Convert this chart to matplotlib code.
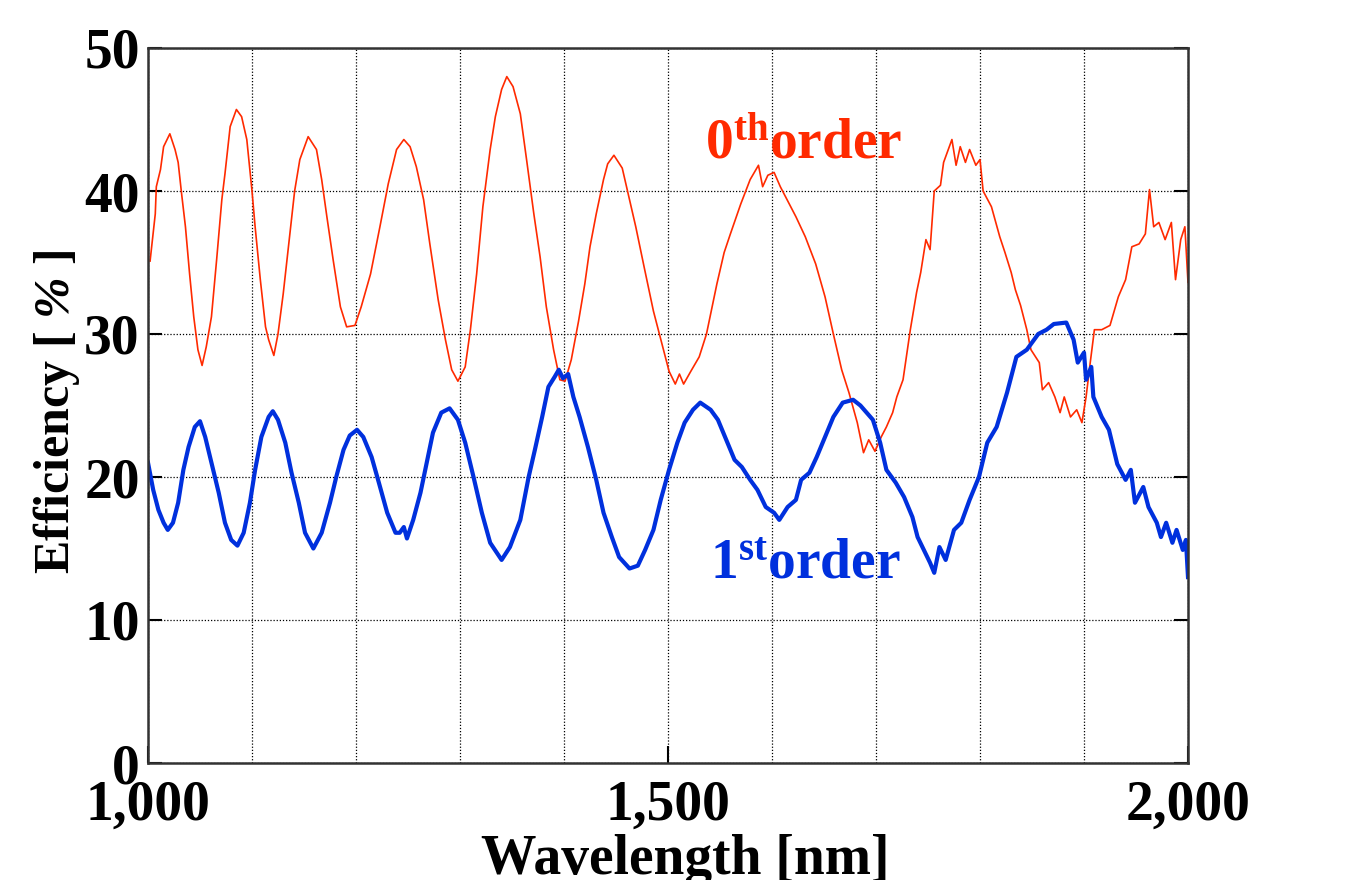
import matplotlib
matplotlib.use("Agg")
import matplotlib.pyplot as plt
from matplotlib.ticker import MultipleLocator

plt.rcParams['font.family'] = ['Liberation Serif', 'DejaVu Serif']
plt.rcParams['font.weight'] = 'bold'
plt.rcParams['axes.labelweight'] = 'bold'
plt.rcParams['mathtext.fontset'] = 'custom'
plt.rcParams['mathtext.default'] = 'regular'
# rm is only used for the italic percent sign in the y label
plt.rcParams['mathtext.rm'] = 'Liberation Serif:italic'

# 0th order (red)
wl_0th = [1002, 1007, 1008, 1012, 1015, 1021, 1026, 1029, 1032, 1036, 1040, 1044, 1048,
          1052, 1056, 1061, 1066, 1071, 1074, 1079, 1085, 1090, 1095, 1100, 1103, 1108,
          1113, 1116, 1121, 1125, 1130, 1135, 1141, 1146, 1154, 1162, 1167, 1172, 1178,
          1185, 1191, 1199, 1205, 1214, 1223, 1231, 1239, 1246, 1252, 1258, 1265, 1271,
          1279, 1286, 1292, 1298, 1305, 1310, 1316, 1322, 1329, 1334, 1340, 1345, 1351,
          1358, 1364, 1371, 1377, 1383, 1390, 1396, 1401, 1407, 1414, 1420, 1425, 1431,
          1438, 1442, 1448, 1456, 1463, 1469, 1477, 1486, 1496, 1501, 1507, 1511, 1515,
          1522, 1530, 1537, 1547, 1554, 1560, 1570, 1579, 1587, 1591, 1596, 1602, 1608,
          1613, 1623, 1632, 1642, 1651, 1659, 1667, 1674, 1682, 1688, 1693, 1699, 1705,
          1710, 1716, 1720, 1726, 1733, 1739, 1743, 1748, 1752, 1756, 1762, 1765, 1773,
          1777, 1781, 1786, 1790, 1796, 1800, 1803, 1811, 1819, 1824, 1830, 1834, 1839,
          1845, 1849, 1857, 1860, 1866, 1872, 1877, 1881, 1887, 1893, 1898, 1902, 1906,
          1910, 1917, 1925, 1933, 1940, 1946, 1953, 1959, 1963, 1967, 1972, 1978, 1984,
          1988, 1993, 1997, 2000]
eff_0th = [35.1, 38.4, 40.3, 41.5, 43.1, 44.0, 42.9, 42.0, 40.0, 37.5, 34.2, 31.2, 28.9,
           27.8, 29.1, 31.2, 35.2, 39.4, 41.2, 44.5, 45.7, 45.2, 43.6, 40.0, 37.5, 33.8,
           30.5, 29.6, 28.5, 30.0, 32.8, 36.1, 40.0, 42.2, 43.8, 42.9, 40.8, 38.2, 35.2,
           31.9, 30.5, 30.6, 31.9, 34.2, 37.5, 40.5, 42.9, 43.6, 43.1, 41.7, 39.4, 36.3,
           32.4, 29.6, 27.5, 26.7, 27.7, 30.3, 34.2, 38.9, 42.9, 45.2, 47.1, 48.0, 47.3,
           45.4, 42.2, 38.4, 35.4, 31.9, 28.9, 26.8, 26.7, 28.2, 30.9, 33.5, 36.1, 38.4,
           40.8, 41.9, 42.5, 41.6, 39.4, 37.5, 34.7, 31.6, 28.8, 27.4, 26.5, 27.2, 26.5,
           27.4, 28.4, 30.0, 33.5, 35.7, 37.0, 39.1, 40.8, 41.8, 40.3, 41.1, 41.3, 40.3,
           39.6, 38.2, 36.8, 34.9, 32.6, 30.0, 27.5, 25.9, 23.8, 21.7, 22.6, 21.8, 22.8,
           23.5, 24.5, 25.6, 26.8, 30.3, 32.9, 34.3, 36.6, 35.9, 40.0, 40.4, 42.0, 43.6,
           41.8, 43.1, 42.0, 42.9, 41.8, 42.2, 40.0, 38.9, 36.8, 35.7, 34.3, 33.1, 32.0,
           30.3, 28.9, 28.0, 26.1, 26.6, 25.6, 24.5, 25.6, 24.2, 24.7, 23.8, 25.6, 28.0,
           30.3, 30.3, 30.6, 32.6, 33.8, 36.1, 36.3, 37.0, 40.1, 37.5, 37.8, 36.6, 37.8,
           33.8, 36.6, 37.5, 33.6]

# 1st order (blue)
wl_1st = [1000, 1005, 1010, 1015, 1019, 1024, 1029, 1034, 1039, 1045, 1050, 1055, 1061,
          1068, 1074, 1080, 1086, 1092, 1098, 1103, 1109, 1116, 1120, 1125, 1132, 1138,
          1145, 1151, 1159, 1167, 1175, 1181, 1188, 1194, 1201, 1207, 1215, 1222, 1230,
          1238, 1242, 1246, 1249, 1255, 1262, 1268, 1274, 1282, 1290, 1298, 1305, 1313,
          1321, 1329, 1340, 1348, 1358, 1366, 1372, 1379, 1385, 1391, 1395, 1399, 1404,
          1409, 1415, 1423, 1431, 1438, 1446, 1453, 1463, 1471, 1478, 1486, 1493, 1501,
          1509, 1516, 1524, 1531, 1541, 1548, 1556, 1564, 1571, 1579, 1586, 1594, 1602,
          1607, 1615, 1623, 1628, 1636, 1643, 1651, 1659, 1668, 1678, 1685, 1697, 1704,
          1710, 1719, 1727, 1735, 1740, 1746, 1752, 1756, 1761, 1767, 1775, 1782, 1790,
          1799, 1807, 1816, 1826, 1835, 1845, 1856, 1864, 1871, 1883, 1890, 1894, 1900,
          1902, 1907, 1909, 1917, 1924, 1932, 1940, 1945, 1949, 1957, 1962, 1970, 1974,
          1979, 1985, 1989, 1995, 1998, 2000]
eff_1st = [21.0, 19.1, 17.7, 16.8, 16.3, 16.8, 18.2, 20.5, 22.1, 23.5, 23.9, 22.8, 21.0,
           18.9, 16.8, 15.6, 15.2, 16.1, 18.2, 20.5, 22.8, 24.2, 24.6, 24.0, 22.4, 20.3,
           18.2, 16.1, 15.0, 16.1, 18.2, 20.0, 21.9, 22.9, 23.3, 22.8, 21.4, 19.6, 17.5,
           16.1, 16.1, 16.5, 15.7, 17.0, 18.9, 21.0, 23.1, 24.5, 24.8, 24.0, 22.4, 20.0,
           17.5, 15.4, 14.2, 15.1, 17.0, 20.0, 21.9, 24.2, 26.3, 27.0, 27.5, 26.9, 27.2,
           25.6, 24.2, 22.1, 19.8, 17.5, 15.8, 14.4, 13.6, 13.8, 14.9, 16.3, 18.4, 20.5,
           22.4, 23.8, 24.7, 25.2, 24.7, 24.0, 22.6, 21.2, 20.7, 19.8, 19.1, 17.9, 17.5,
           17.0, 17.9, 18.4, 19.8, 20.3, 21.4, 22.8, 24.2, 25.2, 25.4, 25.0, 24.0, 22.4,
           20.5, 19.6, 18.6, 17.2, 15.8, 14.9, 14.0, 13.3, 15.1, 14.2, 16.3, 16.8, 18.4,
           20.0, 22.4, 23.5, 25.9, 28.4, 28.9, 30.0, 30.3, 30.7, 30.8, 29.6, 28.0, 28.7,
           26.8, 27.7, 25.6, 24.2, 23.3, 20.9, 19.8, 20.5, 18.2, 19.3, 17.9, 16.8, 15.8,
           16.8, 15.4, 16.3, 14.9, 15.6, 13.0]

labels_x = ['1,000', '1,500', '2,000']
ticks_x = [1000, 1500, 2000]
ticks_y = [0, 10, 20, 30, 40, 50]

red = '#ff2a00'
blue = '#0030dd'

fig = plt.figure(figsize=(13.56, 8.8), dpi=100)
ax = fig.add_axes([148 / 1356, 117 / 880, 1040 / 1356, 715 / 880])

ax.plot(wl_0th, eff_0th, color=red, lw=1.2)
ax.plot(wl_1st, eff_1st, color=blue, lw=3.0)

ax.set_xlim(1000, 2000)
ax.set_ylim(0, 50)
ax.set_xticks(ticks_x)
ax.set_xticklabels(labels_x)
ax.xaxis.set_minor_locator(MultipleLocator(100))
ax.set_yticks(ticks_y)

ax.grid(True, which='both', color='black', linestyle=(0, (1, 1.5)), linewidth=0.9)
ax.tick_params(axis='x', which='major', direction='in', length=12, width=1.5,
               labelsize=40, pad=12)
ax.tick_params(axis='x', which='minor', length=0)
ax.tick_params(axis='y', direction='in', length=10, width=1.5, labelsize=40,
               left=True, right=True, pad=6)
for s in ax.spines.values():
    s.set_color('#333333')
    s.set_linewidth(1.8)

ax.set_xlabel('Wavelength [nm]', fontsize=40)
ax.xaxis.set_label_coords((685 - 148) / 1040, -(834 - 763) / 715)
ax.set_ylabel(r'Efficiency [ $\mathrm{\%}$ ]', fontsize=36)
ax.yaxis.set_label_coords((82 - 148) / 1040, (763 - 412) / 715)

ax.text(1536, 42.3, '$0^{th}$order', color=red, fontsize=40, ha='left', va='baseline')
ax.text(1540, 12.9, '$1^{st}$order', color=blue, fontsize=40, ha='left', va='baseline')

fig.savefig('out.png', dpi=100)
